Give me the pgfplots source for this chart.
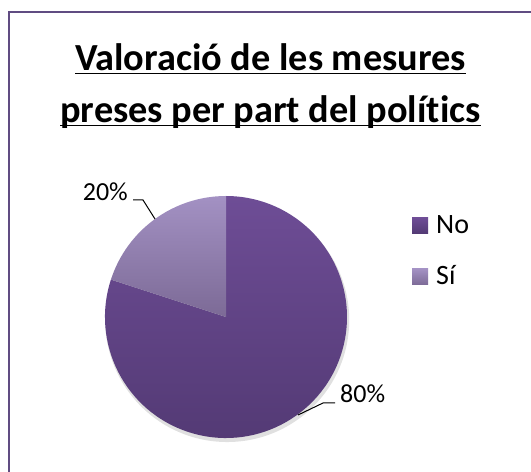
\documentclass[border=0pt]{standalone}
\usepackage{pgfplots}
\pgfplotsset{compat=1.18}
\usepackage{pgfplotstable}
\usepackage{fontspec}
\setmainfont[Ligatures=NoCommon]{Carlito}
\definecolor{frame}{RGB}{96,76,130}
\definecolor{noTop}{RGB}{110,77,150}
\definecolor{noBot}{RGB}{82,57,115}
\definecolor{siTop}{RGB}{163,145,195}
\definecolor{siBot}{RGB}{124,106,150}
\newcommand\ul[1]{\setbox0\hbox{#1}\rlap{\rule[-3.5pt]{\wd0}{1.9pt}}\box0}

\pgfplotstableread{
label value
No 80
Si 20
}\piedata
\pgfplotstablegetelem{0}{value}\of\piedata \edef\vNo{\pgfplotsretval}
\pgfplotstablegetelem{1}{value}\of\piedata \edef\vSi{\pgfplotsretval}
\pgfmathsetmacro\total{\vNo+\vSi}
\pgfmathsetmacro\aSi{90+360*\vSi/\total}

\begin{document}
\begin{tikzpicture}[x=1pt,y=1pt]
\useasboundingbox (0,0) rectangle (531,472);
\fill[white] (0,0) rectangle (531,472);
\draw[frame, line width=2pt] (531,460) -- (9,460) -- (9,0);

\node[anchor=base, font=\fontsize{38.3}{42}\selectfont\bfseries] at (270.5,401) {\ul{Valoració de les mesures}};
\node[anchor=base, font=\fontsize{38.3}{42}\selectfont\bfseries] at (270.5,349) {\ul{preses per part del polítics}};

\begin{axis}[hide axis, scale only axis, x=121pt, y=121pt,
  xmin=-1, xmax=1, ymin=-1, ymax=1, anchor=origin, at={(226pt,155pt)}, clip=false]
  \fill[black, opacity=0.12] (axis cs:0.01,-0.025) circle[radius=122pt];
  \shade[top color=noTop, bottom color=noBot] (axis cs:0,0) -- (axis cs:{cos(\aSi)},{sin(\aSi)}) arc[start angle=\aSi, end angle=450, radius=121pt] -- cycle;
  \shade[top color=siTop, bottom color=siBot] (axis cs:0,0) -- (axis cs:0,1) arc[start angle=90, end angle=\aSi, radius=121pt] -- cycle;
\end{axis}

\draw[black, line width=1pt] (133,272) -- (143,272) -- (155,253);
\draw[black, line width=1pt] (298,57) -- (323,69) -- (335,69);
\node[anchor=base east, inner sep=0pt, font=\fontsize{26}{30}\selectfont] at (128,271) {20\%};
\node[anchor=base west, inner sep=0pt, font=\fontsize{26}{30}\selectfont] at (340,69) {80\%};

\shade[top color=noTop, bottom color=noBot] (412,238) rectangle (428,254);
\shade[top color=siTop, bottom color=siBot] (412,187) rectangle (428,203);
\node[anchor=base west, inner sep=0pt, font=\fontsize{28}{32}\selectfont] at (436,238) {No};
\node[anchor=base west, inner sep=0pt, font=\fontsize{28}{32}\selectfont] at (436,187) {Sí};
\end{tikzpicture}
\end{document}
